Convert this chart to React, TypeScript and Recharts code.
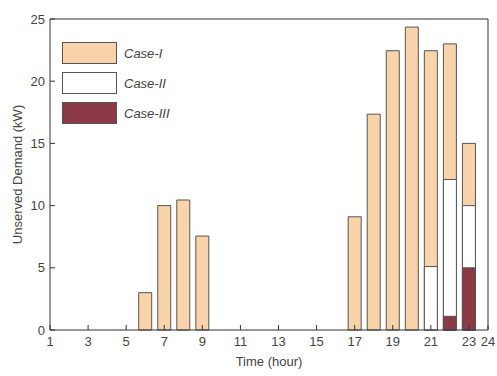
import { Bar, BarChart, XAxis, YAxis } from "recharts";

// hourly unserved demand (kW) for each case; bars are overlaid, not stacked
const hours = [6, 7, 8, 9, 17, 18, 19, 20, 21, 22, 23];
const caseI = [3.0, 10.0, 10.45, 7.55, 9.1, 17.35, 22.45, 24.35, 22.45, 23.0, 15.0];
const caseII = [0, 0, 0, 0, 0, 0, 0, 0, 5.1, 12.1, 10.0];
const caseIII = [0, 0, 0, 0, 0, 0, 0, 0, 0, 1.1, 5.0];

const xTicks = [1, 3, 5, 7, 9, 11, 13, 15, 17, 19, 21, 23, 24];
const yTicks = [0, 5, 10, 15, 20, 25];

const series = [
  { key: "caseI", name: "Case-I", fill: "#F9D4AA", axis: "x1" },
  { key: "caseII", name: "Case-II", fill: "#FFFFFF", axis: "x2" },
  { key: "caseIII", name: "Case-III", fill: "#8C3A46", axis: "x3" },
];

const data = hours.map((h, i) => ({
  hour: h,
  caseI: caseI[i],
  caseII: caseII[i],
  caseIII: caseIII[i],
}));

const AXIS = "#333";
const TEXT = "#444";
const FONT = "'Liberation Sans', Arial, sans-serif";
const tickFont = { fill: TEXT, fontSize: 13, fontFamily: FONT };

const CaseLegend = () => (
  <div
    style={{
      position: "absolute",
      left: 62,
      top: 42,
      display: "flex",
      flexDirection: "column",
      gap: 8,
    }}
  >
    {series.map((s) => (
      <div key={s.key} style={{ display: "flex", alignItems: "center" }}>
        <div
          style={{
            width: 53,
            height: 20,
            background: s.fill,
            border: "1px solid #555",
          }}
        />
        <span
          style={{
            marginLeft: 7,
            fontStyle: "italic",
            fontSize: 13,
            color: TEXT,
            fontFamily: FONT,
          }}
        >
          {s.name}
        </span>
      </div>
    ))}
  </div>
);

export default function App() {
  return (
    <div style={{ position: "absolute", left: 0, top: 0, width: 497, height: 376, background: "#fff" }}>
      <BarChart
        width={497}
        height={376}
        data={data}
        margin={{ top: 14, right: 4, bottom: 14, left: 0 }}
      >
        {/* negative tickSize turns the ticks inward */}
        <XAxis
          xAxisId="x1"
          dataKey="hour"
          type="number"
          domain={[1, 24]}
          ticks={xTicks}
          interval={0}
          tick={tickFont}
          tickSize={-5}
          tickMargin={12}
          tickLine={{ stroke: AXIS }}
          axisLine={{ stroke: AXIS }}
          height={32}
          label={{
            value: "Time (hour)",
            position: "insideBottom",
            offset: -4,
            fill: TEXT,
            fontSize: 13,
            fontFamily: FONT,
          }}
        />
        {/* top and right axes only close the box and carry tick marks */}
        <XAxis
          xAxisId="top"
          orientation="top"
          dataKey="hour"
          type="number"
          domain={[1, 24]}
          ticks={xTicks}
          interval={0}
          tick={false}
          tickSize={-5}
          tickLine={{ stroke: AXIS }}
          axisLine={{ stroke: AXIS }}
          height={5}
        />
        <XAxis xAxisId="x2" dataKey="hour" type="number" domain={[1, 24]} hide />
        <XAxis xAxisId="x3" dataKey="hour" type="number" domain={[1, 24]} hide />
        <YAxis
          yAxisId="left"
          type="number"
          domain={[0, 25]}
          ticks={yTicks}
          interval={0}
          tick={tickFont}
          tickSize={-5}
          tickMargin={10}
          tickLine={{ stroke: AXIS }}
          axisLine={{ stroke: AXIS }}
          width={50}
          label={{
            value: "Unserved Demand (kW)",
            angle: -90,
            position: "insideLeft",
            offset: 17,
            style: { textAnchor: "middle" },
            fill: TEXT,
            fontSize: 13,
            fontFamily: FONT,
          }}
        />
        <YAxis
          yAxisId="right"
          orientation="right"
          type="number"
          domain={[0, 25]}
          ticks={yTicks}
          interval={0}
          tick={false}
          tickSize={-5}
          tickLine={{ stroke: AXIS }}
          axisLine={{ stroke: AXIS }}
          width={5}
        />
        {series.map((s) => (
          <Bar
            key={s.key}
            dataKey={s.key}
            name={s.name}
            xAxisId={s.axis}
            yAxisId="left"
            fill={s.fill}
            stroke="#555"
            strokeWidth={1}
            barSize={13}
            isAnimationActive={false}
          />
        ))}
      </BarChart>
      <CaseLegend />
    </div>
  );
}
